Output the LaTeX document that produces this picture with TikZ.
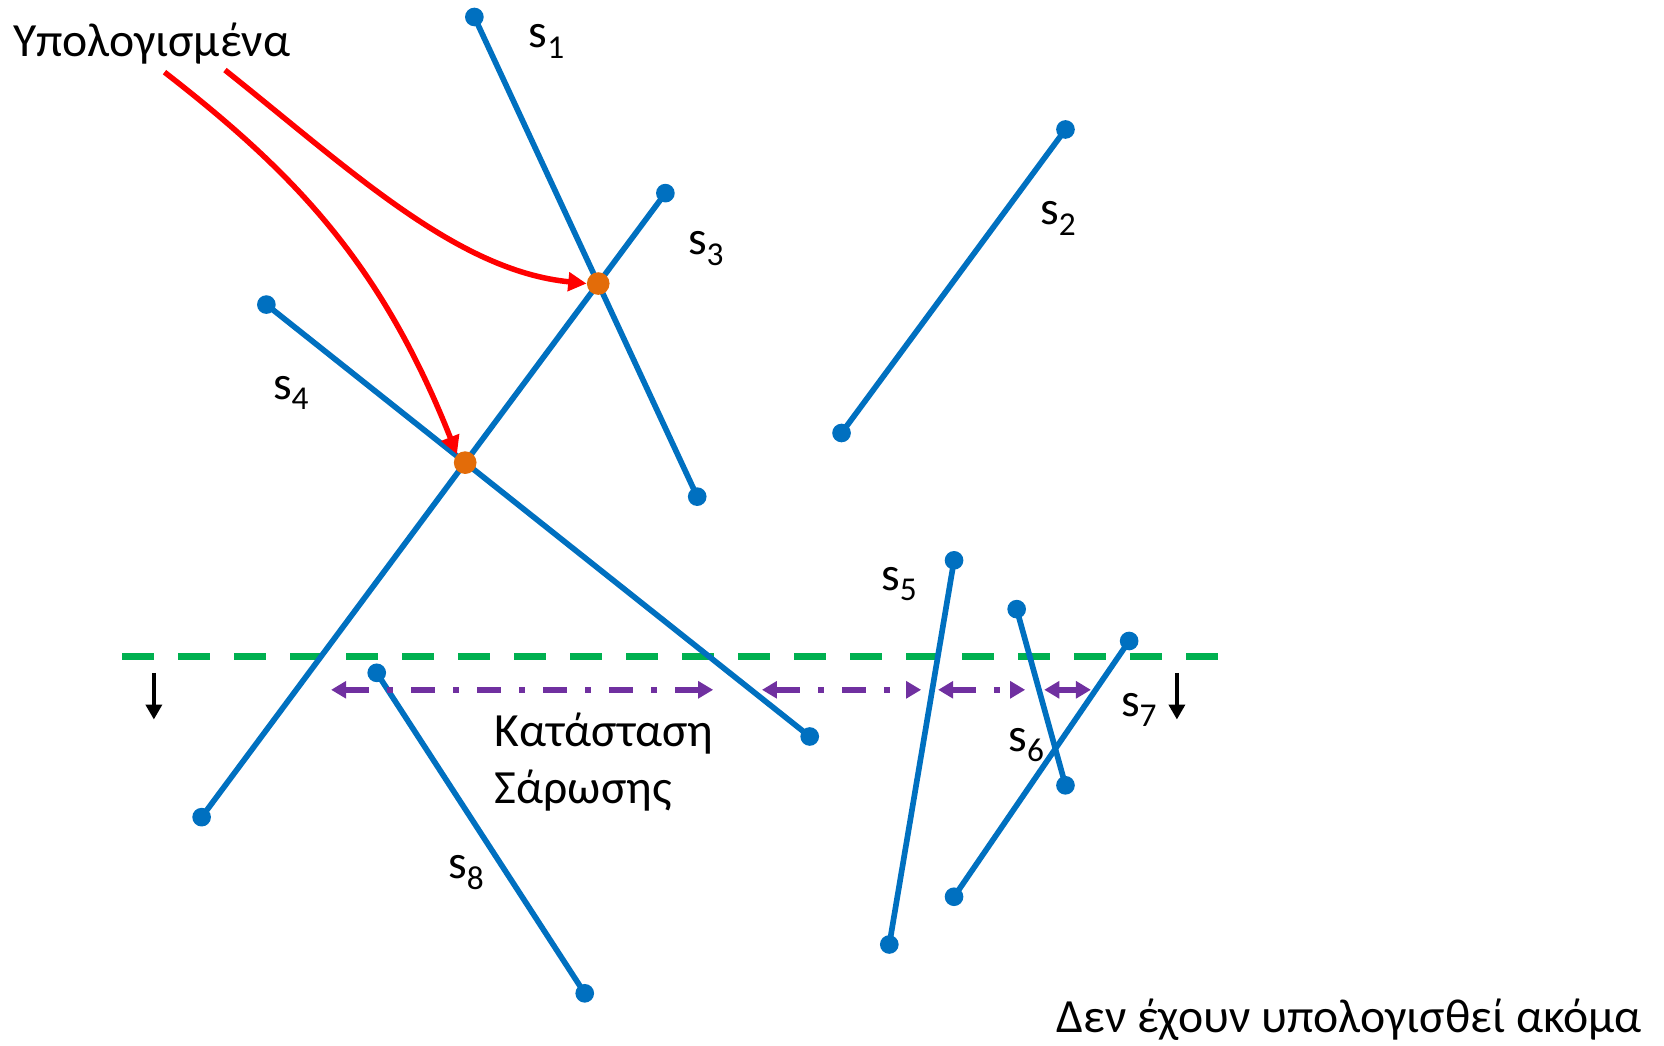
\documentclass[tikz,border=0pt]{standalone}
\usepackage{fontspec}
\setmainfont{Carlito}
\usetikzlibrary{arrows.meta}
\definecolor{segblue}{HTML}{0070C0}
\definecolor{ptorange}{HTML}{E36C09}
\definecolor{sweepgreen}{HTML}{00B050}
\definecolor{statepurple}{HTML}{7030A0}
\newcommand\seglabel[1]{s\raisebox{-6.3pt}{\fontsize{20pt}{20pt}\selectfont #1}}
\begin{document}
\begin{tikzpicture}[x=0.6367pt,y=-0.6367pt,
  every node/.style={font=\fontsize{28.6pt}{34pt}\selectfont},
  endpt/.style={circle,fill=segblue,inner sep=0pt,minimum size=11.2pt},
  hitpt/.style={circle,fill=ptorange,inner sep=0pt,minimum size=13.6pt},
  segline/.style={draw=segblue,line width=3.4pt},
  sweepline/.style={draw=sweepgreen,line width=4.2pt,dash pattern=on 19.2pt off 14.4pt},
  statearrow/.style={draw=statepurple,line width=3.6pt,dash pattern=on 14.4pt off 10.8pt on 3.6pt off 10.8pt,
     {Triangle[length=9pt,width=10pt]}-{Triangle[length=9pt,width=10pt]}},
  redarrow/.style={draw=red,line width=3.3pt,-{Triangle[length=11pt,width=11pt]}},
  downarrow/.style={draw=black,line width=2.4pt,-{Triangle[length=9pt,width=9.6pt]}},
  lbl/.style={anchor=base west,inner sep=0pt}]
\useasboundingbox (0,0) rectangle (1568,985);
% sweep line
\coordinate (gL) at (115,619);
\coordinate (gR) at (1148,619);
\draw[sweepline] (gL) -- (gR);
% segment endpoints
\node[endpt] (s1a) at (447,16) {};
\node[endpt] (s1b) at (657,468) {};
\node[endpt] (s2a) at (1004,122) {};
\node[endpt] (s2b) at (793,408) {};
\node[endpt] (s3a) at (627,182) {};
\node[endpt] (s3b) at (190,770) {};
\node[endpt] (s4a) at (251,287) {};
\node[endpt] (s4b) at (763,694) {};
\node[endpt] (s5a) at (899,528) {};
\node[endpt] (s5b) at (838,890) {};
\node[endpt] (s6a) at (958,574) {};
\node[endpt] (s6b) at (1004,740) {};
\node[endpt] (s7a) at (1064,604) {};
\node[endpt] (s7b) at (899,845) {};
\node[endpt] (s8a) at (355,634) {};
\node[endpt] (s8b) at (551,936) {};
\foreach \s in {1,...,8}{\draw[segline] (s\s a.center) -- (s\s b.center);}
% intersection points
\node[hitpt] (p13) at (intersection of s1a.center--s1b.center and s3a.center--s3b.center) {};
\node[hitpt] (p34) at (intersection of s3a.center--s3b.center and s4a.center--s4b.center) {};
% labels
\node[lbl] at (498,45) {\seglabel{1}};
\node[lbl] at (980,212) {\seglabel{2}};
\node[lbl] at (648,240) {\seglabel{3}};
\node[lbl] at (257,376) {\seglabel{4}};
\node[lbl] at (830,556) {\seglabel{5}};
\node[lbl] at (950,708) {\seglabel{6}};
\node[lbl] at (1056,675) {\seglabel{7}};
\node[lbl] at (422,828) {\seglabel{8}};
\node[lbl] (comp) at (12,53) {Υπολογισμένα};
\node[lbl] (st1) at (466,703) {Κατάσταση};
\node[lbl] (st2) at (466,757) {Σάρωσης};
\node[anchor=base east,inner sep=0pt] (notyet) at (1547,973) {Δεν έχουν υπολογισθεί ακόμα};
% red arrows
\coordinate (rA) at (212,66);
\coordinate (rB) at (155,68);
\draw[redarrow] (rA) .. controls (330,160) and (430,255) .. (p13.west);
\draw[redarrow] (rB) .. controls (280,165) and (360,250) .. (p34.north west);
% down arrows
\coordinate (dL1) at (145,634); \coordinate (dL2) at (145,678);
\coordinate (dR1) at (1109,634); \coordinate (dR2) at (1109,678);
\draw[downarrow] (dL1) -- (dL2);
\draw[downarrow] (dR1) -- (dR2);
% status arrows
\coordinate (a1) at (312,650); \coordinate (a2) at (672,650);
\coordinate (a3) at (718,650); \coordinate (a4) at (868,650);
\coordinate (a5) at (884,650); \coordinate (a6) at (966,650);
\coordinate (a7) at (984,650); \coordinate (a8) at (1028,650);
\draw[statearrow] (a1) -- (a2);
\draw[statearrow] (a3) -- (a4);
\draw[statearrow] (a5) -- (a6);
\draw[statearrow] (a7) -- (a8);
\end{tikzpicture}
\end{document}
